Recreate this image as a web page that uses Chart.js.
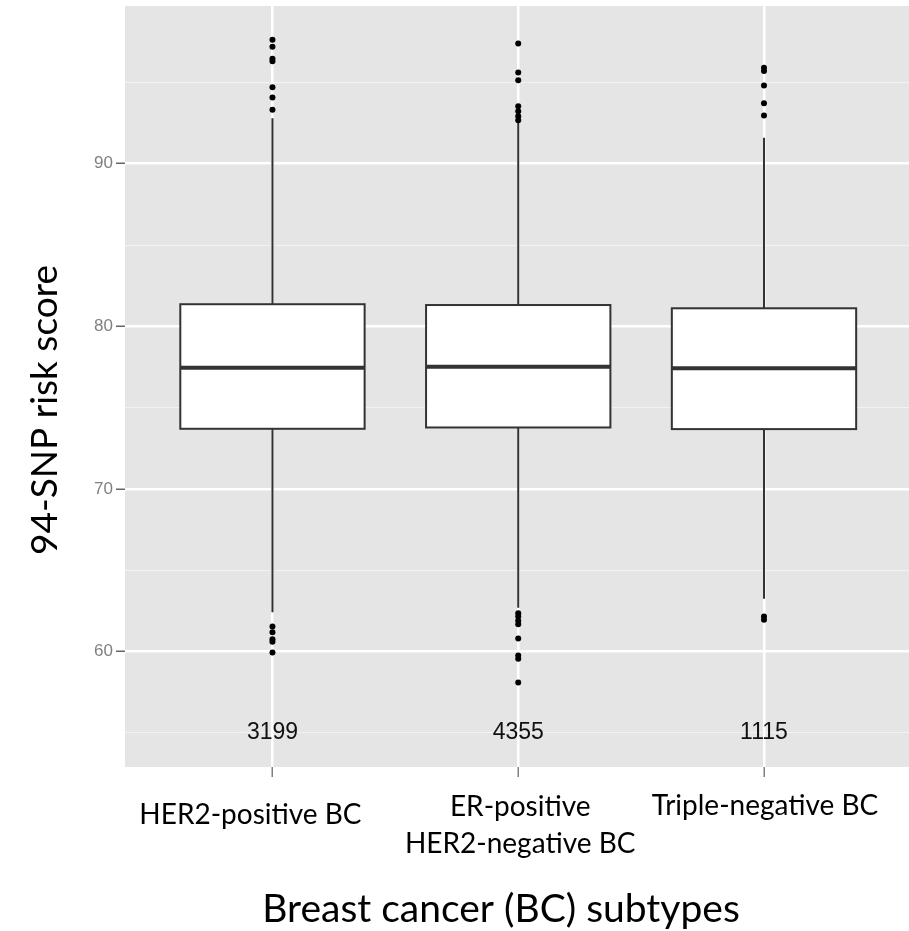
<!DOCTYPE html>
<html>
<head>
<meta charset="utf-8">
<script src="https://cdn.jsdelivr.net/npm/chart.js@4.4.1/dist/chart.umd.min.js"></script>
<style>
  html, body { margin: 0; padding: 0; background: #ffffff; }
  #chart { display: block; }
</style>
</head>
<body>
<canvas id="chart" width="909" height="931"></canvas>
<script>
// categories (one label line per entry)
const categories = [
    ["HER2-positive BC"],
    ["ER-positive", "HER2-negative BC"],
    ["Triple-negative BC"]
];
const counts = [3199, 4355, 1115];

// box statistics
const whiskerLow  = [62.42, 62.70, 63.24];
const q1          = [73.70, 73.78, 73.68];
const median      = [77.45, 77.51, 77.42];
const q3          = [81.36, 81.31, 81.11];
const whiskerHigh = [92.80, 92.56, 91.60];

// outliers per category
const outliersHer2 = [97.62, 97.19, 96.45, 96.30, 94.71, 94.07, 93.32, 61.54, 61.19, 60.75, 60.60, 59.94];
const outliersEr   = [97.39, 95.61, 95.14, 93.54, 93.23, 92.92, 92.68, 62.36, 62.15, 61.90, 61.68, 60.80, 59.75, 59.55, 58.10];
const outliersTn   = [95.90, 95.70, 94.81, 93.72, 92.97, 62.15, 61.95];

// y axis ticks
const yMajorTicks = [60, 70, 80, 90];
const yMinorTicks = [55, 65, 75, 85, 95];
const countLabelValue = 55;

const outlierPoints = [];
[outliersHer2, outliersEr, outliersTn].forEach((list, i) => {
    list.forEach(v => outlierPoints.push({ x: i, y: v }));
});

// placement of the text outside the panel
const xLabelShift = [-22, 2, 1];
const xLabelBaselines = [[824], [816, 853], [815]];
const calibriLike = "Lato, 'Open Sans', sans-serif";

const boxPlugin = {
    id: 'boxes',
    beforeDraw(chart) {
        const { ctx, chartArea } = chart;
        ctx.save();
        ctx.fillStyle = '#e5e5e5';
        ctx.fillRect(chartArea.left, chartArea.top, chartArea.right - chartArea.left, chartArea.bottom - chartArea.top);
        ctx.restore();
    },
    beforeDatasetsDraw(chart) {
        const { ctx } = chart;
        const x = chart.scales.x;
        const y = chart.scales.y;
        ctx.save();
        categories.forEach((c, i) => {
            const cx = x.getPixelForValue(i);
            const left = x.getPixelForValue(i - 0.375);
            const right = x.getPixelForValue(i + 0.375);
            const yTop = y.getPixelForValue(q3[i]);
            const yBot = y.getPixelForValue(q1[i]);

            ctx.strokeStyle = '#333333';
            ctx.lineWidth = 2;
            ctx.beginPath();
            ctx.moveTo(cx, y.getPixelForValue(whiskerHigh[i]));
            ctx.lineTo(cx, yTop);
            ctx.moveTo(cx, yBot);
            ctx.lineTo(cx, y.getPixelForValue(whiskerLow[i]));
            ctx.stroke();

            ctx.fillStyle = '#ffffff';
            ctx.fillRect(left, yTop, right - left, yBot - yTop);
            ctx.strokeRect(left, yTop, right - left, yBot - yTop);

            ctx.lineWidth = 4;
            ctx.beginPath();
            const ym = y.getPixelForValue(median[i]);
            ctx.moveTo(left, ym);
            ctx.lineTo(right, ym);
            ctx.stroke();
        });
        ctx.restore();
    },
    afterDraw(chart) {
        const { ctx } = chart;
        const x = chart.scales.x;
        const y = chart.scales.y;
        ctx.save();
        ctx.fillStyle = '#111111';
        ctx.textAlign = 'center';

        // counts inside the panel
        ctx.font = "23px 'Liberation Sans', Arial, sans-serif";
        ctx.textBaseline = 'middle';
        counts.forEach((n, i) => {
            ctx.fillText(String(n), x.getPixelForValue(i), y.getPixelForValue(countLabelValue));
        });

        // category labels
        ctx.fillStyle = '#000000';
        ctx.textBaseline = 'alphabetic';
        ctx.font = "28px " + calibriLike;
        categories.forEach((lines, i) => {
            const cx = x.getPixelForValue(i) + xLabelShift[i];
            lines.forEach((line, k) => ctx.fillText(line, cx, xLabelBaselines[i][k]));
        });

        // axis titles
        ctx.font = "39px " + calibriLike;
        ctx.fillText("Breast cancer (BC) subtypes", 501, 922);
        ctx.font = "37px " + calibriLike;
        ctx.translate(57, 410);
        ctx.rotate(-Math.PI / 2);
        ctx.fillText("94-SNP risk score", 0, 0);
        ctx.restore();
    }
};

document.addEventListener("DOMContentLoaded", function () {
    const canvas = document.getElementById('chart');

    new Chart(canvas.getContext('2d'), {
        type: 'scatter',
        data: {
            datasets: [
                {
                    data: outlierPoints,
                    backgroundColor: '#000000',
                    borderWidth: 0,
                    pointRadius: 3,
                    pointHoverRadius: 3
                }
            ]
        },
        options: {
            responsive: false,
            animation: false,
            devicePixelRatio: 1,
            layout: { autoPadding: false, padding: { top: 6, left: 0, right: 0, bottom: 0 } },
            plugins: {
                legend: { display: false },
                tooltip: { enabled: false }
            },
            scales: {
                x: {
                    type: 'linear',
                    min: -0.6,
                    max: 2.59,
                    afterBuildTicks: s => { s.ticks = categories.map((c, i) => ({ value: i })); },
                    afterFit: s => {
                        s.height = 164;
                        s.paddingLeft = 0;
                        s.paddingRight = 0;
                    },
                    border: { display: false },
                    grid: {
                        color: '#ffffff',
                        lineWidth: 2.5,
                        tickLength: 10,
                        tickColor: '#808080',
                        tickWidth: 1.5
                    },
                    ticks: { display: false }
                },
                y: {
                    min: 52.9,
                    max: 99.7,
                    afterBuildTicks: s => {
                        s.ticks = yMajorTicks.concat(yMinorTicks).sort((a, b) => a - b).map(v => ({ value: v }));
                    },
                    afterFit: s => {
                        s.width = 125;
                        s.paddingTop = 0;
                        s.paddingBottom = 0;
                    },
                    border: { display: false },
                    grid: {
                        color: ctx => yMajorTicks.includes(ctx.tick.value) ? '#ffffff' : '#f2f2f2',
                        lineWidth: ctx => yMajorTicks.includes(ctx.tick.value) ? 2.5 : 1,
                        tickLength: 9,
                        tickColor: ctx => yMajorTicks.includes(ctx.tick.value) ? '#666666' : 'rgba(0,0,0,0)',
                        tickWidth: 1.5
                    },
                    ticks: {
                        autoSkip: false,
                        padding: 3,
                        color: '#808080',
                        font: { family: "'Liberation Sans', Arial, sans-serif", size: 17 },
                        callback: v => yMajorTicks.includes(v) ? String(v) : ''
                    }
                }
            }
        },
        plugins: [boxPlugin]
    });
});
</script>
</body>
</html>
